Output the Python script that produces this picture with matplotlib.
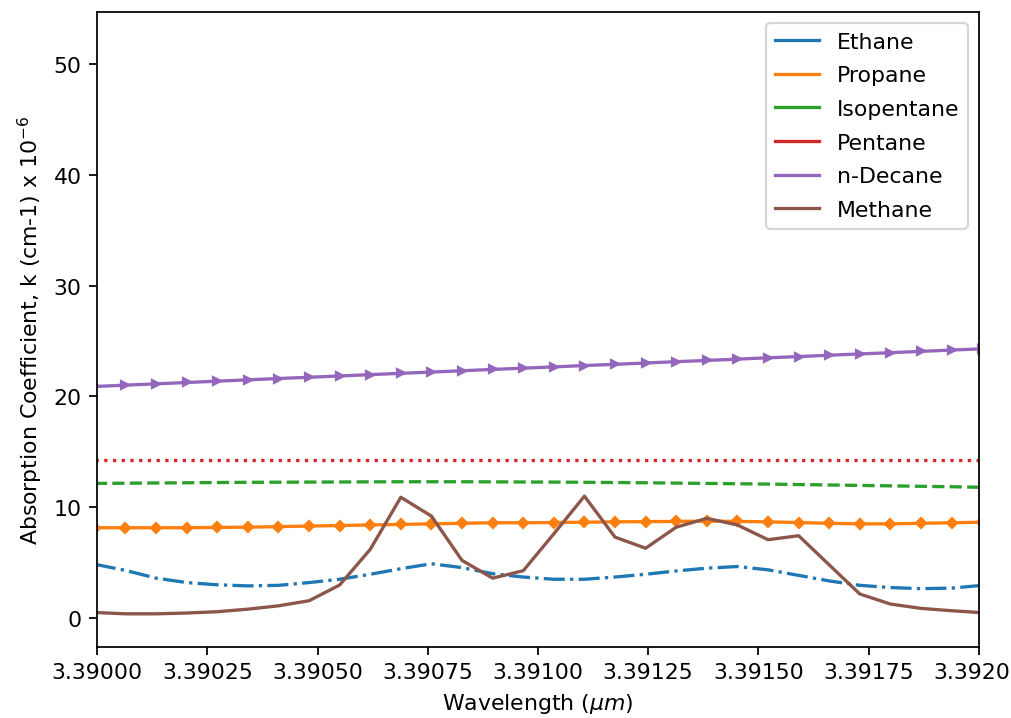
import matplotlib
matplotlib.use("Agg")
import matplotlib.pyplot as plt
from matplotlib.lines import Line2D
from matplotlib.ticker import MultipleLocator

# wavelength grid (um)
wavelength = [3.389995, 3.3900644, 3.3901338, 3.3902032, 3.3902726, 3.390342,
              3.3904114, 3.3904808, 3.3905502, 3.3906196, 3.390689, 3.3907584,
              3.3908278, 3.3908972, 3.3909666, 3.391036, 3.3911054, 3.3911748,
              3.3912442, 3.3913136, 3.391383, 3.3914524, 3.3915218, 3.3915912,
              3.3916606, 3.39173, 3.3917994, 3.3918688, 3.3919382, 3.3920076]

ethane = [4.85, 4.3, 3.6, 3.2, 3.0, 2.9, 2.95, 3.2, 3.5, 3.95,
          4.45, 4.9, 4.55, 4.0, 3.7, 3.5, 3.5, 3.7, 3.95, 4.25,
          4.5, 4.65, 4.35, 3.85, 3.35, 2.95, 2.75, 2.65, 2.7, 2.95]

propane = [8.15, 8.15, 8.15, 8.15, 8.18, 8.2, 8.25, 8.3, 8.35, 8.4,
           8.45, 8.5, 8.55, 8.6, 8.6, 8.62, 8.65, 8.68, 8.7, 8.72,
           8.75, 8.72, 8.68, 8.62, 8.55, 8.5, 8.5, 8.55, 8.6, 8.65]

isopentane = [12.15, 12.17, 12.19, 12.21, 12.23, 12.25, 12.26, 12.27, 12.28, 12.29,
              12.3, 12.3, 12.3, 12.29, 12.28, 12.27, 12.25, 12.23, 12.21, 12.18,
              12.15, 12.12, 12.09, 12.05, 12.01, 11.97, 11.93, 11.89, 11.85, 11.8]

pentane = [14.25, 14.25, 14.25, 14.25, 14.25, 14.25, 14.25, 14.25, 14.25, 14.25,
           14.25, 14.25, 14.25, 14.25, 14.25, 14.25, 14.25, 14.25, 14.25, 14.25,
           14.25, 14.25, 14.25, 14.25, 14.25, 14.25, 14.25, 14.25, 14.25, 14.25]

decane = [20.9, 21.02, 21.14, 21.26, 21.38, 21.5, 21.62, 21.73, 21.85, 21.97,
          22.09, 22.2, 22.32, 22.44, 22.55, 22.67, 22.79, 22.9, 23.02, 23.14,
          23.25, 23.37, 23.49, 23.6, 23.72, 23.84, 23.95, 24.07, 24.19, 24.3]

methane = [0.5, 0.38, 0.38, 0.45, 0.57, 0.8, 1.1, 1.56, 2.98, 6.2,
           10.9, 9.2, 5.2, 3.6, 4.27, 7.6, 11.0, 7.3, 6.3, 8.2,
           9.0, 8.4, 7.07, 7.43, 4.8, 2.17, 1.26, 0.87, 0.66, 0.48]

names = ["Ethane", "Propane", "Isopentane", "Pentane", "n-Decane", "Methane"]
colors = ["C0", "C1", "C2", "C3", "C4", "C5"]

fig = plt.figure(figsize=(6.4, 4.55), dpi=158)
ax = fig.add_axes([0.096, 0.099, 0.872, 0.883])

ax.plot(wavelength, ethane, color="C0", linestyle="-.")
ax.plot(wavelength, propane, color="C1", marker="D", markersize=3.5)
ax.plot(wavelength, isopentane, color="C2", linestyle="--")
ax.plot(wavelength, pentane, color="C3", linestyle=":")
ax.plot(wavelength, decane, color="C4", marker=">", markersize=3.5)
ax.plot(wavelength, methane, color="C5")

# legend shows plain solid lines
handles = [Line2D([], [], color=c) for c in colors]
ax.legend(handles, names, loc="upper right", labelspacing=0.62)

ax.set_xlim(3.39, 3.392)
ax.set_ylim(-2.6, 54.7)
ax.xaxis.set_major_locator(MultipleLocator(0.00025))
ax.yaxis.set_major_locator(MultipleLocator(10))
ax.set_xlabel(r"Wavelength ($\mu m$)")
ax.set_ylabel(r"Absorption Coefficient, k (cm-1) x $10^{-6}$")

fig.savefig("out.png", dpi=158)
